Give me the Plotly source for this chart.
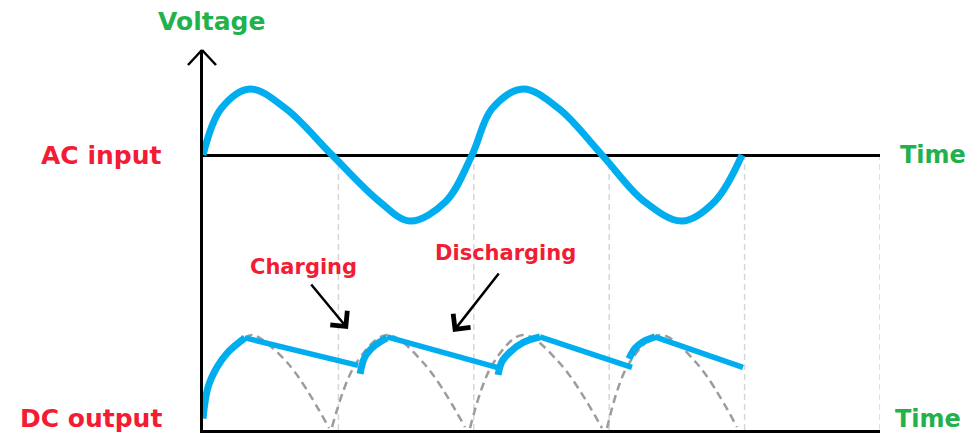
import plotly.graph_objects as go

# ---------------- data (time in half-periods, voltage normalised to peak) ----------------
# AC input: zero crossings, peaks and the 0.7 levels
AC_T = [0.0, 0.133, 0.347, 0.613, 0.953, 1.300, 1.529, 1.795, 1.987,
        2.134, 2.363, 2.629, 2.947, 3.257, 3.538, 3.781, 3.981]
AC_V = [0.0, 0.7, 1.0, 0.7, 0.0, -0.7, -1.0, -0.7, 0.0,
        0.7, 1.0, 0.7, 0.0, -0.7, -1.0, -0.7, 0.0]

# full-wave rectified reference (grey dashed arches)
RECT_T = [[0.310, 0.369, 0.628, 0.931],
          [0.953, 1.130, 1.359, 1.632, 1.935],
          [1.972, 2.142, 2.363, 2.637, 2.947],
          [2.984, 3.146, 3.375, 3.648, 3.944]]
RECT_V = [[0.97, 1.0, 0.70, 0.02],
          [0.03, 0.70, 1.0, 0.70, 0.03],
          [0.02, 0.70, 1.0, 0.70, 0.02],
          [0.02, 0.70, 1.0, 0.70, 0.03]]

# DC output: charging arcs and discharging ramps
CHARGE_T = [[0, 0.037, 0.103, 0.185, 0.310],
            [1.160, 1.196, 1.270, 1.359],
            [2.179, 2.208, 2.267, 2.363, 2.489],
            [3.146, 3.191, 3.250, 3.338]]
CHARGE_V = [[0.12, 0.45, 0.66, 0.82, 0.97],
            [0.59, 0.77, 0.89, 0.97],
            [0.58, 0.72, 0.82, 0.92, 0.98],
            [0.75, 0.86, 0.93, 0.98]]
DISCHARGE_T = [[0.310, 1.145], [1.359, 2.171], [2.489, 3.168], [3.338, 3.988]]
DISCHARGE_V = [[0.97, 0.68], [0.98, 0.66], [0.98, 0.66], [0.98, 0.66]]

GUIDE_T = [1, 2, 3, 4, 5]

# ---------------- layout constants (pixels) ----------------
W, H = 970, 434
L, R, T, B = 203, 880, 50, 430          # plot area edges
AC_ZERO_PX, AC_AMP_PX = 155, 66
DC_AMP_PX = 95
X_MAX = 5.0

AC_RANGE = [(AC_ZERO_PX - B) / AC_AMP_PX, (AC_ZERO_PX - T) / AC_AMP_PX]
DC_RANGE = [0, (B - T) / DC_AMP_PX]

def px(x):
    return (x - L) / (R - L)

def py(y):
    return (B - y) / (B - T)

BLUE = "#00aeef"
GREEN = "#22b14c"
RED = "#f21c34"
FONT = "DejaVu Sans"

fig = go.Figure()

for tt, vv in zip(RECT_T, RECT_V):
    fig.add_trace(go.Scatter(x=tt, y=vv, yaxis="y2", mode="lines",
                             line=dict(color="#9c9c9c", width=2.5, dash="8px,5px",
                                       shape="spline", smoothing=1.0, simplify=False),
                             hoverinfo="skip"))

fig.add_trace(go.Scatter(x=AC_T, y=AC_V, mode="lines",
                         line=dict(color=BLUE, width=7, shape="spline", smoothing=1.0,
                                   simplify=False)))

for tt, vv in zip(DISCHARGE_T, DISCHARGE_V):
    fig.add_trace(go.Scatter(x=tt, y=vv, yaxis="y2", mode="lines",
                             line=dict(color=BLUE, width=5.5)))
for tt, vv in zip(CHARGE_T, CHARGE_V):
    fig.add_trace(go.Scatter(x=tt, y=vv, yaxis="y2", mode="lines",
                             line=dict(color=BLUE, width=7, shape="spline", simplify=False)))

shapes = []
for g in GUIDE_T:
    shapes.append(dict(type="line", xref="x", yref="y", x0=g, x1=g,
                       y0=AC_RANGE[0], y1=0, layer="below",
                       line=dict(color="#d6d6d6", width=1.5, dash="6px,4px")))
# arrow head on vertical axis (open chevron)
shapes.append(dict(type="line", xref="paper", yref="paper",
                   x0=px(L - 15), y0=py(T + 15), x1=px(L - 1), y1=py(T),
                   line=dict(color="black", width=2.5)))
shapes.append(dict(type="line", xref="paper", yref="paper",
                   x0=px(L - 1), y0=py(T), x1=px(L + 13), y1=py(T + 15),
                   line=dict(color="black", width=2.5)))

def label(text, x, y, color, size):
    return dict(text=text, xref="paper", yref="paper", x=px(x), y=py(y),
                xanchor="center", yanchor="middle", showarrow=False,
                font=dict(family=FONT, size=size, color=color, weight="bold"))

annotations = [
    label("Voltage", 211, 22, GREEN, 25),
    label("AC input", 101, 155, RED, 25),
    label("DC output", 91, 418, RED, 25),
    label("Time", 933, 155, GREEN, 24),
    label("Time", 928, 419, GREEN, 24),
    label("Charging", 303, 267, RED, 21),
    label("Discharging", 505, 253, RED, 21),
    dict(xref="x", yref="y2", axref="x", ayref="y2",
         x=1.071, y=1.063, ax=0.790, ay=1.547, text="", showarrow=True,
         arrowhead=4, arrowsize=1.7, arrowwidth=2.5, arrowcolor="black", standoff=0),
    dict(xref="x", yref="y2", axref="x", ayref="y2",
         x=1.846, y=1.032, ax=2.193, ay=1.663, text="", showarrow=True,
         arrowhead=4, arrowsize=1.7, arrowwidth=2.5, arrowcolor="black", standoff=0),
]

fig.update_layout(
    width=W, height=H,
    margin=dict(l=L, r=W - R, t=T, b=H - B, pad=0),
    paper_bgcolor="white", plot_bgcolor="white",
    showlegend=False,
    xaxis=dict(range=[0, X_MAX], showline=True, linecolor="black", linewidth=2.5,
               showgrid=False, zeroline=False, showticklabels=False, ticks=""),
    yaxis=dict(range=AC_RANGE, showline=True, linecolor="black", linewidth=2.5,
               showgrid=False, zeroline=True, zerolinecolor="black", zerolinewidth=2.5,
               showticklabels=False, ticks=""),
    yaxis2=dict(range=DC_RANGE, overlaying="y", showline=False, showgrid=False,
                zeroline=False, showticklabels=False, ticks=""),
    shapes=shapes,
    annotations=annotations,
)

fig.write_html(
    "out.html",
    config={"displayModeBar": False},
    post_script="document.body.style.margin='0';document.body.style.padding='0';"
                "document.body.style.overflow='hidden';",
)
